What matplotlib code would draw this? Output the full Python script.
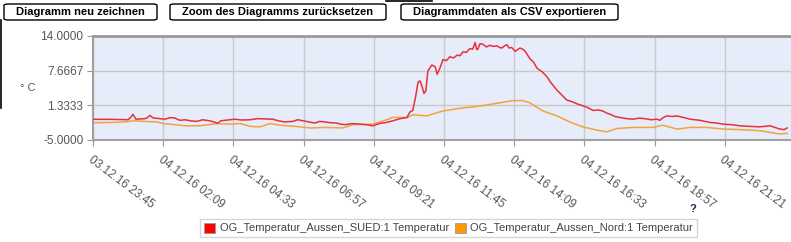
import numpy as np
import pandas as pd
import matplotlib
matplotlib.use('Agg')
import matplotlib.pyplot as plt
import matplotlib.dates as mdates
from matplotlib.patches import FancyBboxPatch, Patch
from matplotlib.lines import Line2D

plt.rcParams['font.family'] = ['Liberation Sans', 'DejaVu Sans']

# data: minutes after 03.12.16 23:45, values in degrees C
start = pd.Timestamp('2016-12-03 23:45')

sued_min = [0, 35, 72, 78, 82, 88, 107, 112, 117, 122, 127, 138, 148, 158, 168, 178, 189,
            200, 213, 225, 240, 248, 256, 262, 271, 291, 305, 322, 338, 353, 369, 380,
            394, 410, 420, 431, 443, 455, 465, 476, 488, 500, 508, 517, 532, 548, 560,
            574, 589, 602, 615, 626, 636, 644, 650, 656, 662, 667, 671, 675, 679, 683,
            687, 695, 702, 706, 712, 718, 725, 732, 740, 747, 753, 759, 766, 773, 779,
            784, 787, 789, 794, 800, 807, 814, 822, 829, 834, 839, 844, 849, 854, 859,
            866, 871, 876, 881, 886, 896, 904, 911, 921, 931, 940, 952, 962, 972, 983,
            993, 1003, 1013, 1026, 1036, 1046, 1054, 1061, 1071, 1081, 1095, 1108, 1120,
            1132, 1145, 1157, 1163, 1170, 1177, 1188, 1198, 1212, 1225, 1235, 1245, 1256,
            1266, 1280, 1292, 1310, 1327, 1345, 1368, 1378, 1389, 1399, 1409, 1418, 1424]
sued_val = [-1.22, -1.22, -1.3, -0.8, -0.3, -1.2, -1.1, -0.9, -0.5, -0.9, -1.0, -1.1,
            -1.2, -0.9, -1.0, -1.4, -1.3, -1.5, -1.6, -1.3, -1.5, -1.7, -1.95, -1.5,
            -1.4, -1.2, -1.35, -1.3, -1.1, -1.15, -1.2, -1.5, -1.7, -1.6, -1.3, -1.5,
            -1.7, -1.9, -1.6, -1.7, -1.85, -1.9, -2.1, -2.2, -2.0, -2.1, -2.2, -2.4,
            -1.95, -1.8, -1.5, -1.2, -1.0, -0.9, 0.1, 0.4, 3.0, 5.6, 5.8, 4.8, 3.5, 4.0,
            7.6, 8.7, 8.4, 7.0, 8.2, 9.7, 9.5, 10.2, 10.0, 10.5, 10.4, 11.1, 11.0, 11.7,
            11.6, 12.8, 11.6, 11.5, 12.6, 12.5, 12.0, 12.3, 12.1, 12.2, 11.9, 11.8, 12.2,
            12.4, 11.8, 11.9, 11.2, 11.5, 11.8, 11.6, 11.3, 9.9, 9.2, 8.1, 7.5, 6.6, 5.4,
            4.1, 3.2, 2.3, 2.0, 1.6, 1.3, 1.0, 0.4, 0.5, 0.3, -0.1, -0.3, -0.7, -0.9,
            -1.1, -1.2, -1.0, -1.1, -1.3, -1.2, -1.4, -0.9, -0.6, -0.7, -0.6, -0.9, -1.2,
            -1.3, -1.4, -1.6, -1.8, -1.9, -2.1, -2.2, -2.4, -2.5, -2.6, -2.5, -2.4, -2.7,
            -3.0, -3.1, -2.8]

nord_min = [0, 35, 66, 82, 107, 131, 144, 168, 189, 219, 254, 281, 302, 322, 343, 363,
            384, 414, 445, 476, 513, 533, 574, 603, 615, 644, 656, 671, 685, 695, 718,
            753, 794, 835, 862, 882, 896, 923, 952, 978, 1005, 1034, 1054, 1075, 1108,
            1149, 1169, 1198, 1225, 1259, 1292, 1327, 1368, 1409, 1424]
nord_val = [-1.84, -1.8, -1.7, -1.5, -1.6, -1.7, -2.0, -2.2, -2.4, -2.4, -2.0, -2.1, -2.0,
            -2.5, -2.6, -2.0, -2.3, -2.5, -2.8, -2.7, -2.8, -2.2, -2.1, -1.3, -0.85, -0.9,
            -0.4, -0.5, -0.6, -0.3, 0.3, 0.8, 1.2, 1.8, 2.2, 2.2, 1.8, 0.3, -0.6, -1.7,
            -2.6, -3.2, -3.5, -2.9, -2.7, -2.7, -2.3, -3.0, -2.7, -2.7, -3.0, -3.1, -3.3,
            -3.9, -3.8]

y_ticks = [-5.0, 1.3333, 7.6667, 14.0]
tick_step_min = 144
end_min = 1432

sued_t = start + pd.to_timedelta(sued_min, unit='m')
nord_t = start + pd.to_timedelta(nord_min, unit='m')

W, H = 791, 242
fig = plt.figure(figsize=(W / 100, H / 100), dpi=100)
fig.patch.set_facecolor('white')

ax = fig.add_axes([93 / W, 1 - 140 / H, 698 / W, 104 / H])
ax.set_facecolor('#e6ecf9')
ax.plot(sued_t, sued_val, color='#e8303c', lw=1.1, zorder=3)
ax.plot(nord_t, nord_val, color='#f2a33a', lw=1.1, zorder=2)

ax.set_ylim(-5, 14)
ax.set_yticks(y_ticks)
ax.set_yticklabels(['%.4f' % v for v in y_ticks])
ax.set_xlim(start, start + pd.Timedelta(minutes=end_min))
xt = [start + pd.Timedelta(minutes=tick_step_min * k) for k in range(10)]
ax.set_xticks(xt)
ax.set_xticklabels([t.strftime('%d.%m.%y %H:%M') for t in xt])
ax.grid(True, color='#c9c9c9', lw=1)
ax.set_axisbelow(True)

for s in ['left', 'bottom']:
    ax.spines[s].set_color('#a0a0a0')
    ax.spines[s].set_linewidth(1.5)
ax.spines['top'].set_color('#999999')
ax.spines['top'].set_linewidth(2)
ax.spines['right'].set_visible(False)

ax.tick_params(axis='y', length=4, color='#999999', labelsize=8.5, labelcolor='#555555', pad=3)
ax.tick_params(axis='x', length=4, color='#999999', labelsize=8.5, labelcolor='#555555', pad=6)
for lab in ax.get_xticklabels():
    lab.set_rotation(-37)
    lab.set_ha('left')
    lab.set_va('top')
    lab.set_rotation_mode('anchor')

fig.text(20 / W, 1 - 88 / H, '° C', fontsize=8, color='#555555', va='center')

# buttons
buttons = [(4, 157, 'Diagramm neu zeichnen'),
           (170, 386, 'Zoom des Diagramms zurücksetzen'),
           (401, 618, 'Diagrammdaten als CSV exportieren')]
for x0, x1, txt in buttons:
    b = FancyBboxPatch((x0 / W, 1 - 20 / H), (x1 - x0) / W, 16 / H,
                       boxstyle='round,pad=0,rounding_size=0.006',
                       transform=fig.transFigure, facecolor='white',
                       edgecolor='black', lw=1)
    fig.add_artist(b)
    fig.text((x0 + x1) / 2 / W, 1 - 12 / H, txt, ha='center', va='center',
             fontsize=8, fontweight='bold', color='black')

# page edge lines
fig.add_artist(Line2D([0.5 / W, 0.5 / W], [1 - 20 / H, 1 - 108 / H], color='black', lw=1.2))
fig.add_artist(Line2D([386 / W, 432 / W], [1 - 0.5 / H, 1 - 0.5 / H], color='black', lw=1.2))

# legend
handles = [Patch(facecolor='#ff0000', edgecolor='#999999', lw=0.6),
           Patch(facecolor='#ff9900', edgecolor='#999999', lw=0.6)]
labels = ['OG_Temperatur_Aussen_SUED:1 Temperatur', 'OG_Temperatur_Aussen_Nord:1 Temperatur']
leg = fig.legend(handles, labels, ncol=2, loc='center', bbox_to_anchor=(448.5 / W, 1 - 228 / H),
                 frameon=True, fancybox=False, edgecolor='#cccccc', fontsize=8,
                 handlelength=1.0, handleheight=1.0, handletextpad=0.4, columnspacing=0.5,
                 borderpad=0.35, borderaxespad=0)
for t in leg.get_texts():
    t.set_color('#444444')
leg.get_frame().set_linewidth(1)

fig.text(693 / W, 1 - 209 / H, '?', ha='center', va='center', fontsize=8,
         fontweight='bold', color='#1a2a5a')

fig.savefig('out.png', dpi=100)
